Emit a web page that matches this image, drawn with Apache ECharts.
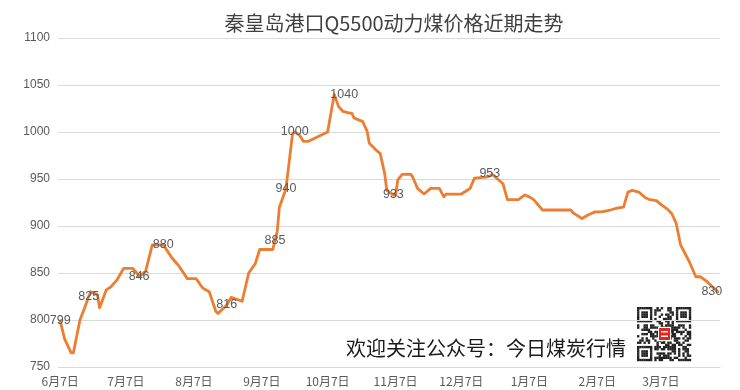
<!DOCTYPE html>
<html><head><meta charset="utf-8">
<script src="https://cdn.jsdelivr.net/npm/echarts@6/dist/echarts.min.js"></script>
<style>html,body{margin:0;padding:0;background:#fff}#c{width:740px;height:390px}</style>
</head><body><div id="c"></div>
<script>
const titleText = '秦皇岛港口Q5500动力煤价格近期走势';
const noteText = '欢迎关注公众号：今日煤炭行情';
const axisStart = '2023-06-06';
const axisEnd = '2024-04-03';
const yMin = 750, yMax = 1100, yStep = 50;

const priceDates = [
 '2023-06-07','2023-06-09','2023-06-12','2023-06-13','2023-06-16','2023-06-18','2023-06-20','2023-06-21','2023-06-24','2023-06-25',
 '2023-06-28','2023-06-30','2023-07-03','2023-07-06','2023-07-10','2023-07-12','2023-07-13','2023-07-16','2023-07-19','2023-07-24',
 '2023-07-26','2023-07-28','2023-07-31','2023-08-04','2023-08-08','2023-08-11','2023-08-14','2023-08-17','2023-08-18','2023-08-22',
 '2023-08-24','2023-08-29','2023-09-01','2023-09-04','2023-09-06','2023-09-12','2023-09-13','2023-09-14','2023-09-15','2023-09-17',
 '2023-09-18','2023-09-21','2023-09-22','2023-09-24','2023-09-26','2023-09-28','2023-10-07','2023-10-10','2023-10-12','2023-10-14',
 '2023-10-17','2023-10-18','2023-10-19','2023-10-23','2023-10-25','2023-10-26','2023-10-29','2023-10-31','2023-11-02','2023-11-03',
 '2023-11-06','2023-11-07','2023-11-08','2023-11-10','2023-11-14','2023-11-15','2023-11-17','2023-11-20','2023-11-23','2023-11-27',
 '2023-11-29','2023-11-30','2023-12-07','2023-12-09','2023-12-11','2023-12-13','2023-12-18','2023-12-20','2023-12-21','2023-12-23',
 '2023-12-26','2023-12-28','2024-01-02','2024-01-05','2024-01-07','2024-01-09','2024-01-13','2024-01-26','2024-01-27','2024-01-31',
 '2024-02-03','2024-02-06','2024-02-09','2024-02-13','2024-02-16','2024-02-19','2024-02-21','2024-02-23','2024-02-26','2024-02-29',
 '2024-03-02','2024-03-05','2024-03-07','2024-03-10','2024-03-12','2024-03-14','2024-03-16','2024-03-18','2024-03-20','2024-03-23',
 '2024-03-25','2024-03-28','2024-04-02'
];
const prices = [
 799,780,765,765,800,812,825,830,827,813,
 832,835,843,855,855,850,846,852,880,880,
 873,866,858,844,844,834,830,809,807,816,
 824,820,850,860,875,875,885,894,920,933,
 940,998,1000,997,990,990,1000,1040,1027,1022,
 1020,1020,1015,1011,1001,988,981,977,956,938,
 933,933,949,955,955,951,940,934,940,940,
 931,934,934,937,940,951,952,953,955,951,
 945,928,928,933,931,928,917,917,914,908,
 912,915,915,917,919,920,936,938,936,930,
 928,927,923,918,913,903,880,871,862,846,
 846,841,830
];
const labeledDates = ['2023-06-07','2023-06-20','2023-07-13','2023-07-24','2023-08-22','2023-09-13',
 '2023-09-18','2023-09-22','2023-10-10','2023-11-06','2023-12-20','2024-04-02'];

// daily category axis
const categories = [];
for (let t = Date.parse(axisStart + 'T00:00:00Z'); t <= Date.parse(axisEnd + 'T00:00:00Z'); t += 86400000) {
  categories.push(new Date(t).toISOString().slice(0, 10));
}

const labelShift = { '2023-10-10': [10, 0], '2024-04-02': [-6, 0], '2023-12-20': [0, -3] };
const seriesData = priceDates.map((d, i) => {
  const item = { value: [categories.indexOf(d), prices[i]] };
  if (labeledDates.includes(d)) {
    item.label = { show: true, position: 'inside', offset: labelShift[d] || [0, 0],
      color: '#595959', fontSize: 12.5, fontFamily: 'Liberation Sans, Arial, sans-serif' };
  }
  return item;
});

// decorative QR-like badge
function qrDark(i, j) {
  const inFinder = (r, c) => {
    const rr = i - r, cc = j - c;
    if (rr < 0 || rr > 6 || cc < 0 || cc > 6) return null;
    if (rr === 0 || rr === 6 || cc === 0 || cc === 6) return true;
    if (rr >= 2 && rr <= 4 && cc >= 2 && cc <= 4) return true;
    return false;
  };
  for (const [r, c] of [[0, 0], [0, 18], [18, 0]]) {
    const f = inFinder(r, c);
    if (f !== null) return f;
  }
  if ((i === 7 && (j < 8 || j > 16)) || (j === 7 && (i < 8 || i > 16)) || (i === 17 && j < 8) || (j === 17 && i < 8)) return false;
  let h = Math.imul(i + 11, 374761393) ^ Math.imul(j + 7, 668265263);
  h = Math.imul(h ^ (h >>> 13), 1274126177);
  return ((h ^ (h >>> 16)) & 3) < 2;
}
const qrX = 637, qrY = 307, qrSize = 54, qrN = 25, m = qrSize / qrN;
const qrChildren = [{ type: 'rect', shape: { x: 0, y: 0, width: qrSize, height: qrSize }, style: { fill: '#fff' } }];
for (let i = 0; i < qrN; i++) for (let j = 0; j < qrN; j++) {
  if (qrDark(i, j)) qrChildren.push({ type: 'rect', shape: { x: j * m, y: i * m, width: m + 0.2, height: m + 0.2 }, style: { fill: '#222' } });
}
qrChildren.push({ type: 'rect', shape: { x: 21, y: 20, width: 13, height: 14 }, style: { fill: '#fff' } });
qrChildren.push({ type: 'rect', shape: { x: 22, y: 21, width: 11, height: 12 }, style: { fill: '#e8231e' } });
qrChildren.push({ type: 'rect', shape: { x: 24, y: 24, width: 7, height: 1.5 }, style: { fill: '#fff' } });
qrChildren.push({ type: 'rect', shape: { x: 24, y: 28.5, width: 7, height: 1.5 }, style: { fill: '#fff' } });

const chart = echarts.init(document.getElementById('c'), null, { renderer: 'canvas' });
chart.setOption({
  animation: false,
  backgroundColor: '#fff',
  grid: { left: 58, right: 20, top: 38, bottom: 23, containLabel: false },
  xAxis: {
    type: 'category', data: categories, boundaryGap: false,
    axisLine: { show: true, lineStyle: { color: '#d9d9d9', width: 1 } },
    axisTick: { show: false },
    splitLine: { show: false },
    axisLabel: {
      interval: (idx, val) => val.slice(8) === '07',
      formatter: v => (+v.slice(5, 7)) + '月' + (+v.slice(8)) + '日',
      color: '#595959', fontSize: 12, margin: 8,
      fontFamily: '"Noto Sans CJK SC", sans-serif'
    }
  },
  yAxis: {
    type: 'value', min: yMin, max: yMax, interval: yStep,
    axisLine: { show: false }, axisTick: { show: false },
    splitLine: { lineStyle: { color: '#d9d9d9', width: 1 } },
    axisLabel: { formatter: v => String(v), color: '#595959', fontSize: 12, margin: 8,
      fontFamily: 'Liberation Sans, Arial, sans-serif' }
  },
  series: [{
    type: 'line', data: seriesData, smooth: false,
    symbol: 'circle', symbolSize: 1, showSymbol: true, showAllSymbol: true,
    itemStyle: { color: 'rgba(0,0,0,0)' },
    lineStyle: { color: '#ED7D31', width: 2.8, join: 'round', cap: 'round' },
    z: 3
  }],
  graphic: [
    { type: 'text', x: 394, y: 23, z: 10, style: { text: titleText, align: 'center', verticalAlign: 'middle',
      fill: '#404040', font: '20px "Noto Sans CJK SC", sans-serif' } },
    { type: 'text', x: 346, y: 348, z: 10, style: { text: noteText, align: 'left', verticalAlign: 'middle',
      fill: '#1a1a1a', font: '20px "Noto Sans CJK SC", sans-serif' } },
    { type: 'group', x: qrX, y: qrY, z: 10, children: qrChildren }
  ]
});
</script>
</body></html>
